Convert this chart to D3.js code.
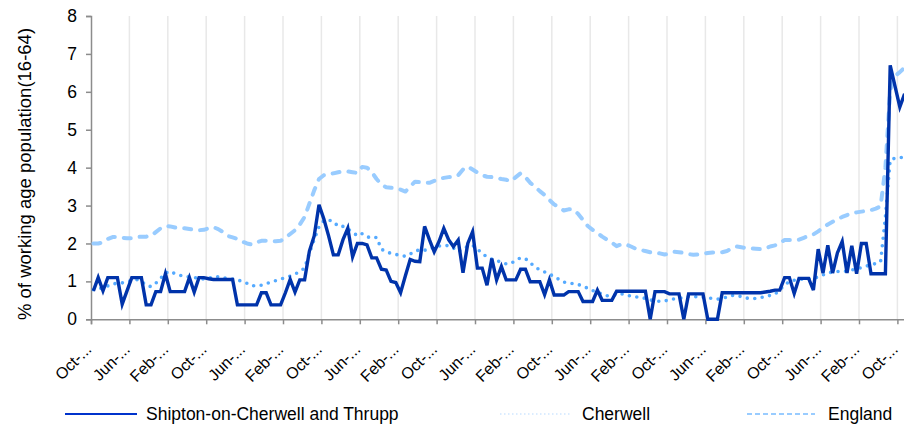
<!DOCTYPE html>
<html><head><meta charset="utf-8">
<script src="https://cdn.jsdelivr.net/npm/d3@7"></script>
<style>
body{margin:0;background:#fff}
svg{display:block}
text{font-family:"Liberation Sans",Arial,sans-serif;fill:#000}
</style>
</head><body>
<svg id="c" width="904" height="424"></svg>
<script>
const seriesNames = ["Shipton-on-Cherwell and Thrupp", "Cherwell", "England"];
const tickLabels = ["Oct-...","Jun-...","Feb-...","Oct-...","Jun-...","Feb-...","Oct-...","Jun-...","Feb-...","Oct-...","Jun-...","Feb-...","Oct-...","Jun-...","Feb-...","Oct-...","Jun-...","Feb-...","Oct-...","Jun-...","Feb-...","Oct-..."];
const yTicks = [0,1,2,3,4,5,6,7,8];
const yTitle = "% of working age population(16-64)";

const shipton = [
0.75,1.1,0.75,1.1,1.1,1.1,0.4,0.75,1.1,1.1,
1.1,0.38,0.38,0.73,0.73,1.2,0.73,0.73,0.73,0.73,
1.1,0.72,1.1,1.1,1.07,1.05,1.05,1.05,1.05,1.05,
0.38,0.38,0.38,0.38,0.38,0.7,0.7,0.38,0.38,0.38,
0.7,1.05,0.72,1.04,1.04,1.8,2.2,3.02,2.65,2.2,
1.7,1.7,2.1,2.4,1.65,2.0,2.0,1.96,1.62,1.62,
1.32,1.3,1.0,0.97,0.7,1.15,1.58,1.53,1.52,2.45,
2.1,1.78,2.05,2.4,2.1,1.92,2.09,1.23,2.0,2.31,
1.35,1.35,0.9,1.6,1.04,1.39,1.04,1.04,1.04,1.32,
1.32,0.99,0.99,0.99,0.65,1.04,0.64,0.64,0.64,0.73,
0.73,0.73,0.47,0.47,0.47,0.77,0.5,0.5,0.5,0.74,
0.74,0.74,0.74,0.74,0.74,0.74,0,0.73,0.73,0.73,
0.67,0.67,0.67,0,0.67,0.67,0.67,0.67,0,0,
0,0.7,0.7,0.7,0.7,0.7,0.7,0.7,0.7,0.7,
0.72,0.74,0.77,0.77,1.1,1.1,0.68,1.08,1.08,1.08,
0.77,1.85,1.22,1.95,1.22,1.75,2.05,1.22,1.94,1.2,
2.0,2.0,1.2,1.2,1.2,1.2,6.7,6.15,5.6,5.95];

const cherwell = [
0.78,0.8,0.83,0.88,0.93,0.95,0.96,0.99,1.02,1.05,
1.0,0.9,0.86,0.95,1.08,1.22,1.27,1.2,1.16,1.13,
1.12,1.1,1.08,1.06,1.08,1.12,1.12,1.1,1.07,1.06,
1.04,1.0,0.95,0.88,0.89,0.9,0.94,0.98,1.02,1.06,
1.1,1.14,1.19,1.26,1.35,1.75,2.1,2.44,2.6,2.62,
2.58,2.45,2.45,2.38,2.3,2.2,2.26,2.18,2.14,2.16,
1.85,1.78,1.74,1.71,1.69,1.66,1.72,1.8,1.83,1.82,
1.86,1.9,1.93,1.95,1.94,1.88,1.78,1.86,1.92,1.95,
1.85,1.74,1.64,1.59,1.55,1.5,1.46,1.47,1.56,1.62,
1.6,1.49,1.38,1.3,1.25,1.19,1.13,1.05,0.98,0.96,
0.94,0.92,0.87,0.82,0.76,0.71,0.67,0.62,0.63,0.65,
0.67,0.64,0.61,0.59,0.58,0.55,0.51,0.49,0.47,0.48,
0.52,0.54,0.55,0.58,0.6,0.6,0.59,0.58,0.56,0.55,
0.53,0.55,0.59,0.63,0.62,0.6,0.56,0.55,0.55,0.57,
0.6,0.63,0.66,0.78,0.9,1.0,1.03,1.05,1.06,1.07,
1.08,1.12,1.17,1.22,1.25,1.26,1.26,1.27,1.3,1.33,
1.36,1.4,1.44,1.47,1.52,2.7,4.2,4.25,4.26,4.28];

const england = [
2.0,2.0,2.03,2.12,2.17,2.17,2.15,2.14,2.14,2.17,
2.18,2.18,2.2,2.3,2.4,2.46,2.45,2.42,2.4,2.4,
2.38,2.36,2.35,2.36,2.4,2.43,2.38,2.3,2.2,2.16,
2.12,2.05,2.0,1.97,2.03,2.07,2.07,2.06,2.06,2.07,
2.15,2.25,2.35,2.5,2.7,3.05,3.4,3.7,3.8,3.84,
3.85,3.88,3.9,3.9,3.88,3.86,4.02,4.0,3.88,3.7,
3.55,3.48,3.47,3.46,3.42,3.37,3.5,3.63,3.62,3.6,
3.6,3.65,3.7,3.73,3.75,3.76,3.8,3.95,4.03,3.95,
3.87,3.8,3.76,3.75,3.73,3.7,3.68,3.64,3.75,3.85,
3.75,3.6,3.5,3.38,3.28,3.15,3.03,2.95,2.87,2.9,
2.9,2.78,2.62,2.46,2.36,2.28,2.18,2.1,2.02,1.93,
1.98,1.97,1.92,1.86,1.83,1.8,1.77,1.76,1.74,1.71,
1.73,1.78,1.77,1.75,1.72,1.7,1.71,1.73,1.75,1.76,
1.76,1.77,1.8,1.87,1.92,1.9,1.88,1.87,1.86,1.85,
1.87,1.92,1.95,2.02,2.09,2.09,2.09,2.1,2.15,2.2,
2.24,2.32,2.42,2.5,2.57,2.64,2.7,2.75,2.8,2.82,
2.84,2.86,2.88,2.92,2.98,4.0,6.05,6.42,6.52,6.64];

const N = shipton.length;
const tickEvery = 8;
const svg = d3.select("#c");
const pLeft = 91, pTop = 16, pBottom = 319.3, step = 4.8;
const x = d3.scaleLinear().domain([0, N]).range([pLeft, pLeft + step * N]);
const y = d3.scaleLinear().domain([0, 8]).range([pBottom, pTop]);

const tickIdx = tickLabels.map((d, k) => k * tickEvery);

// vertical gridlines
svg.append("g").selectAll("line").data(tickIdx.slice(1)).join("line")
  .attr("x1", d => x(d)).attr("x2", d => x(d))
  .attr("y1", y(8)).attr("y2", y(0))
  .attr("stroke", "#e8e8e8").attr("stroke-width", 1.5);

// y axis
const yAxis = d3.axisLeft(y).tickValues(yTicks).tickSize(5).tickPadding(9).tickFormat(d3.format("d"));
const gy = svg.append("g").attr("transform", `translate(${pLeft},0)`).call(yAxis);
gy.select(".domain").attr("stroke", "#8c8c8c").attr("stroke-width", 1.5);
gy.selectAll(".tick line").attr("stroke", "#8c8c8c").attr("stroke-width", 1.5);
gy.selectAll(".tick text").style("font-size", "17.5px").attr("fill", "#000");

// x axis
const xAxis = d3.axisBottom(x).tickValues(tickIdx).tickSize(5).tickFormat((d, i) => tickLabels[i]);
const gx = svg.append("g").attr("transform", `translate(0,${pBottom})`).call(xAxis);
gx.select(".domain").attr("stroke", "#8c8c8c").attr("stroke-width", 1.5);
gx.selectAll(".tick line").attr("stroke", "#8c8c8c").attr("stroke-width", 1.5);
gx.selectAll(".tick text")
  .style("font-size", "16px").attr("fill", "#000")
  .attr("text-anchor", "end")
  .attr("dy", null)
  .attr("y", 0)
  .attr("transform", "translate(1,31) rotate(-45)");

// y title
svg.append("text")
  .attr("transform", `translate(31,174) rotate(-90)`)
  .attr("text-anchor", "middle")
  .style("font-size", "18.5px")
  .text(yTitle);

const line = d3.line().x((d, i) => x(i + 0.5)).y(d => y(d));
const lines = svg.append("g");

lines.append("path").datum(england).attr("d", line)
  .attr("fill", "none").attr("stroke", "#99ccff").attr("stroke-width", 4)
  .attr("stroke-dasharray", "7,9").attr("stroke-linecap", "round").attr("stroke-linejoin", "round");
lines.append("path").datum(cherwell).attr("d", line)
  .attr("fill", "none").attr("stroke", "#55aaff").attr("stroke-width", 3.6)
  .attr("stroke-dasharray", "0,7.5").attr("stroke-linecap", "round").attr("stroke-linejoin", "round");
lines.append("path").datum(shipton).attr("d", line)
  .attr("fill", "none").attr("stroke", "#0033aa").attr("stroke-width", 3.4)
  .attr("stroke-linejoin", "miter");

// legend
const legend = [
  {name: seriesNames[0], x1: 65, x2: 137, tx: 146, stroke: "#0033cc", w: 2, dash: null},
  {name: seriesNames[1], x1: 500, x2: 570, tx: 582, stroke: "#cfe6ff", w: 1.5, dash: "1.5,2.5"},
  {name: seriesNames[2], x1: 747, x2: 815, tx: 828, stroke: "#99ccff", w: 2, dash: "5,3"}
];
const lg = svg.append("g");
legend.forEach(l => {
  lg.append("line").attr("x1", l.x1).attr("x2", l.x2).attr("y1", 414).attr("y2", 414)
    .attr("stroke", l.stroke).attr("stroke-width", l.w).attr("stroke-dasharray", l.dash);
  lg.append("text").attr("x", l.tx).attr("y", 420).style("font-size", "17.5px").text(l.name);
});
</script>
</body></html>
